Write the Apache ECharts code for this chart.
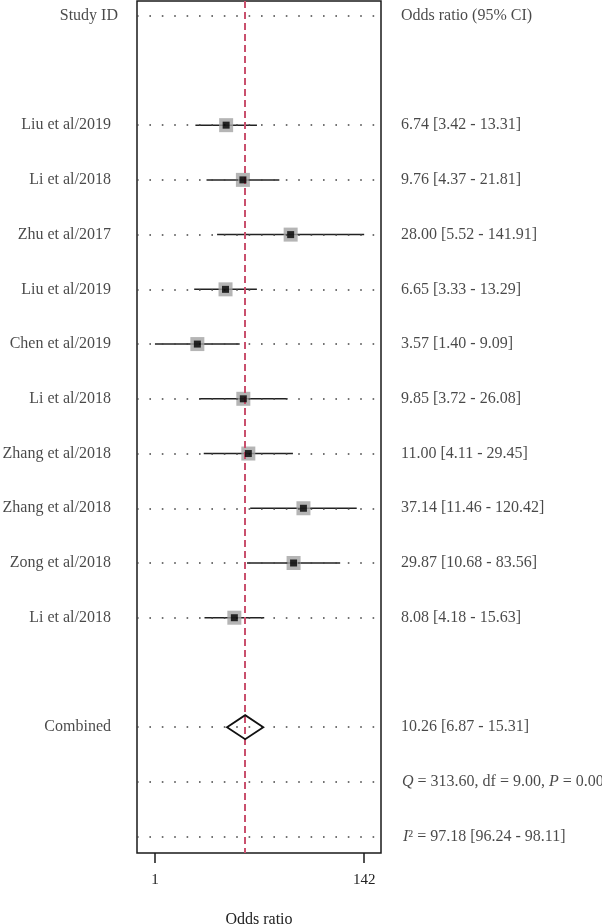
<!DOCTYPE html>
<html>
<head>
<meta charset="utf-8">
<script src="https://cdn.jsdelivr.net/npm/echarts@6/dist/echarts.min.js"></script>
<style>html,body{margin:0;padding:0;background:#fff}#c{width:602px;height:924px}</style>
</head>
<body>
<div id="c"></div>
<script>
// ---- data ----
const studyNames = ['Liu et al/2019','Li et al/2018','Zhu et al/2017','Liu et al/2019','Chen et al/2019','Li et al/2018','Zhang et al/2018','Zhang et al/2018','Zong et al/2018','Li et al/2018'];
const oddsRatio = [6.74, 9.76, 28.00, 6.65, 3.57, 9.85, 11.00, 37.14, 29.87, 8.08];
const ciLow     = [3.42, 4.37, 5.52, 3.33, 1.40, 3.72, 4.11, 11.46, 10.68, 4.18];
const ciHigh    = [13.31, 21.81, 141.91, 13.29, 9.09, 26.08, 29.45, 120.42, 83.56, 15.63];
const studyRows = [2,3,4,5,6,7,8,9,10,11];
const combined  = {or: 10.26, lo: 6.87, hi: 15.31, row: 13};
const headerRow = 0, qRow = 14, i2Row = 15;
const rightTexts = ['6.74 [3.42 - 13.31]','9.76 [4.37 - 21.81]','28.00 [5.52 - 141.91]','6.65 [3.33 - 13.29]','3.57 [1.40 - 9.09]','9.85 [3.72 - 26.08]','11.00 [4.11 - 29.45]','37.14 [11.46 - 120.42]','29.87 [10.68 - 83.56]','8.08 [4.18 - 15.63]'];
const combinedText = '10.26 [6.87 - 15.31]';
const qText = '{i|Q} = 313.60, df = 9.00, {i|P} = 0.00';
const i2Text = '{i|I}² = 97.18 [96.24 - 98.11]';
const xTickValues = [1.40, 141.91];   // labelled 1 and 142
const xMin = 0.942, xMax = 205.8;
const yMin = -0.2686, yMax = 15.299;

const FONT = '"Liberation Serif", "DejaVu Serif", serif';
const chart = echarts.init(document.getElementById('c'));

const leftLabelData = studyNames.map((n,i)=>({value:[xMin, studyRows[i]], name:n}));
leftLabelData.unshift({value:[xMin, headerRow], name:'Study ID', label:{distance:19}});
leftLabelData.push({value:[xMin, combined.row], name:'Combined'});

const rightLabelData = rightTexts.map((t,i)=>({value:[xMax, studyRows[i]], name:t}));
rightLabelData.unshift({value:[xMax, headerRow], name:'Odds ratio (95% CI)'});
rightLabelData.push({value:[xMax, combined.row], name:combinedText});
rightLabelData.push({value:[xMax, qRow], name:qText, label:{distance:21}});
rightLabelData.push({value:[xMax, i2Row], name:i2Text, label:{distance:22}});

const dottedRows = [headerRow].concat(studyRows, [combined.row, qRow, i2Row]);

chart.setOption({
  animation: false,
  backgroundColor: '#fff',
  grid: {left: 137, width: 244, top: 1, height: 852, containLabel: false, outerBoundsMode: 'none',
    show: true, borderColor: '#1a1a1a', borderWidth: 1.5, backgroundColor: 'transparent'},
  xAxis: {
    type: 'log', logBase: 10, min: xMin, max: xMax, position: 'bottom',
    name: 'Odds ratio', nameLocation: 'middle', nameGap: 59,
    nameTextStyle: {fontFamily: FONT, fontSize: 16, color: '#222'},
    axisLine: {show: false, onZero: false},
    splitLine: {show: false},
    minorTick: {show: false},
    axisTick: {show: true, inside: false, length: 10, customValues: xTickValues, lineStyle: {color: '#1a1a1a', width: 1.5}},
    axisLabel: {customValues: xTickValues, margin: 20, fontFamily: FONT, fontSize: 15, color: '#222',
      formatter: v => String(Math.round(v))}
  },
  yAxis: {type: 'value', inverse: true, min: yMin, max: yMax, show: false},
  series: [
    {
      type: 'line', data: [], silent: true, z: 1,
      markLine: {silent: true, symbol: 'none', animation: false,
        lineStyle: {color: '#444', width: 1.5, type: [1.6, 10.8]},
        label: {show: false},
        data: dottedRows.map(r => ({yAxis: r}))}
    },
    {
      type: 'custom', name: 'ci', z: 3, clip: false,
      data: studyRows.map((r,i)=>[ciLow[i], ciHigh[i], r]),
      encode: {x: [0,1], y: 2},
      renderItem: (params, api) => {
        const p1 = api.coord([api.value(0), api.value(2)]);
        const p2 = api.coord([api.value(1), api.value(2)]);
        return {type: 'line', shape: {x1: p1[0], y1: p1[1], x2: p2[0], y2: p2[1]}, style: {stroke: '#222', lineWidth: 1.5}};
      }
    },
    {
      type: 'scatter', name: 'box', z: 4, clip: false, symbol: 'rect', symbolSize: 14,
      itemStyle: {color: '#a2a2a2'},
      data: studyRows.map((r,i)=>[oddsRatio[i], r])
    },
    {
      type: 'scatter', name: 'point', z: 5, clip: false, symbol: 'rect', symbolSize: 7,
      itemStyle: {color: '#000'},
      data: studyRows.map((r,i)=>[oddsRatio[i], r])
    },
    {
      type: 'custom', name: 'diamond', z: 5, clip: false,
      data: [[combined.lo, combined.or, combined.hi, combined.row]],
      encode: {x: [0,1,2], y: 3},
      renderItem: (params, api) => {
        const y = api.value(3);
        const a = api.coord([api.value(0), y]);
        const c = api.coord([api.value(1), y]);
        const b = api.coord([api.value(2), y]);
        return {type: 'polygon', shape: {points: [a, [c[0], c[1]-12], b, [c[0], c[1]+12]]},
          style: {fill: 'none', stroke: '#111', lineWidth: 1.8}};
      }
    },
    {
      type: 'line', data: [], silent: true, z: 10,
      markLine: {silent: true, symbol: 'none', animation: false,
        lineStyle: {color: '#c9506d', width: 2, type: [7, 4]},
        label: {show: false},
        data: [{xAxis: combined.or}]}
    },
    {
      type: 'scatter', name: 'leftLabels', symbolSize: 0, clip: false, silent: true,
      data: leftLabelData,
      label: {show: true, position: 'left', distance: 26, formatter: p => p.name,
        fontFamily: FONT, fontSize: 16, color: '#1a1a1a', align: 'right', verticalAlign: 'middle'}
    },
    {
      type: 'scatter', name: 'rightLabels', symbolSize: 0, clip: false, silent: true,
      data: rightLabelData,
      label: {show: true, position: 'right', distance: 20, formatter: p => p.name,
        fontFamily: FONT, fontSize: 16, color: '#1a1a1a', align: 'left', verticalAlign: 'middle',
        rich: {i: {fontFamily: FONT, fontSize: 16, fontStyle: 'italic', color: '#1a1a1a'}}}
    }
  ]
});
</script>
</body>
</html>
